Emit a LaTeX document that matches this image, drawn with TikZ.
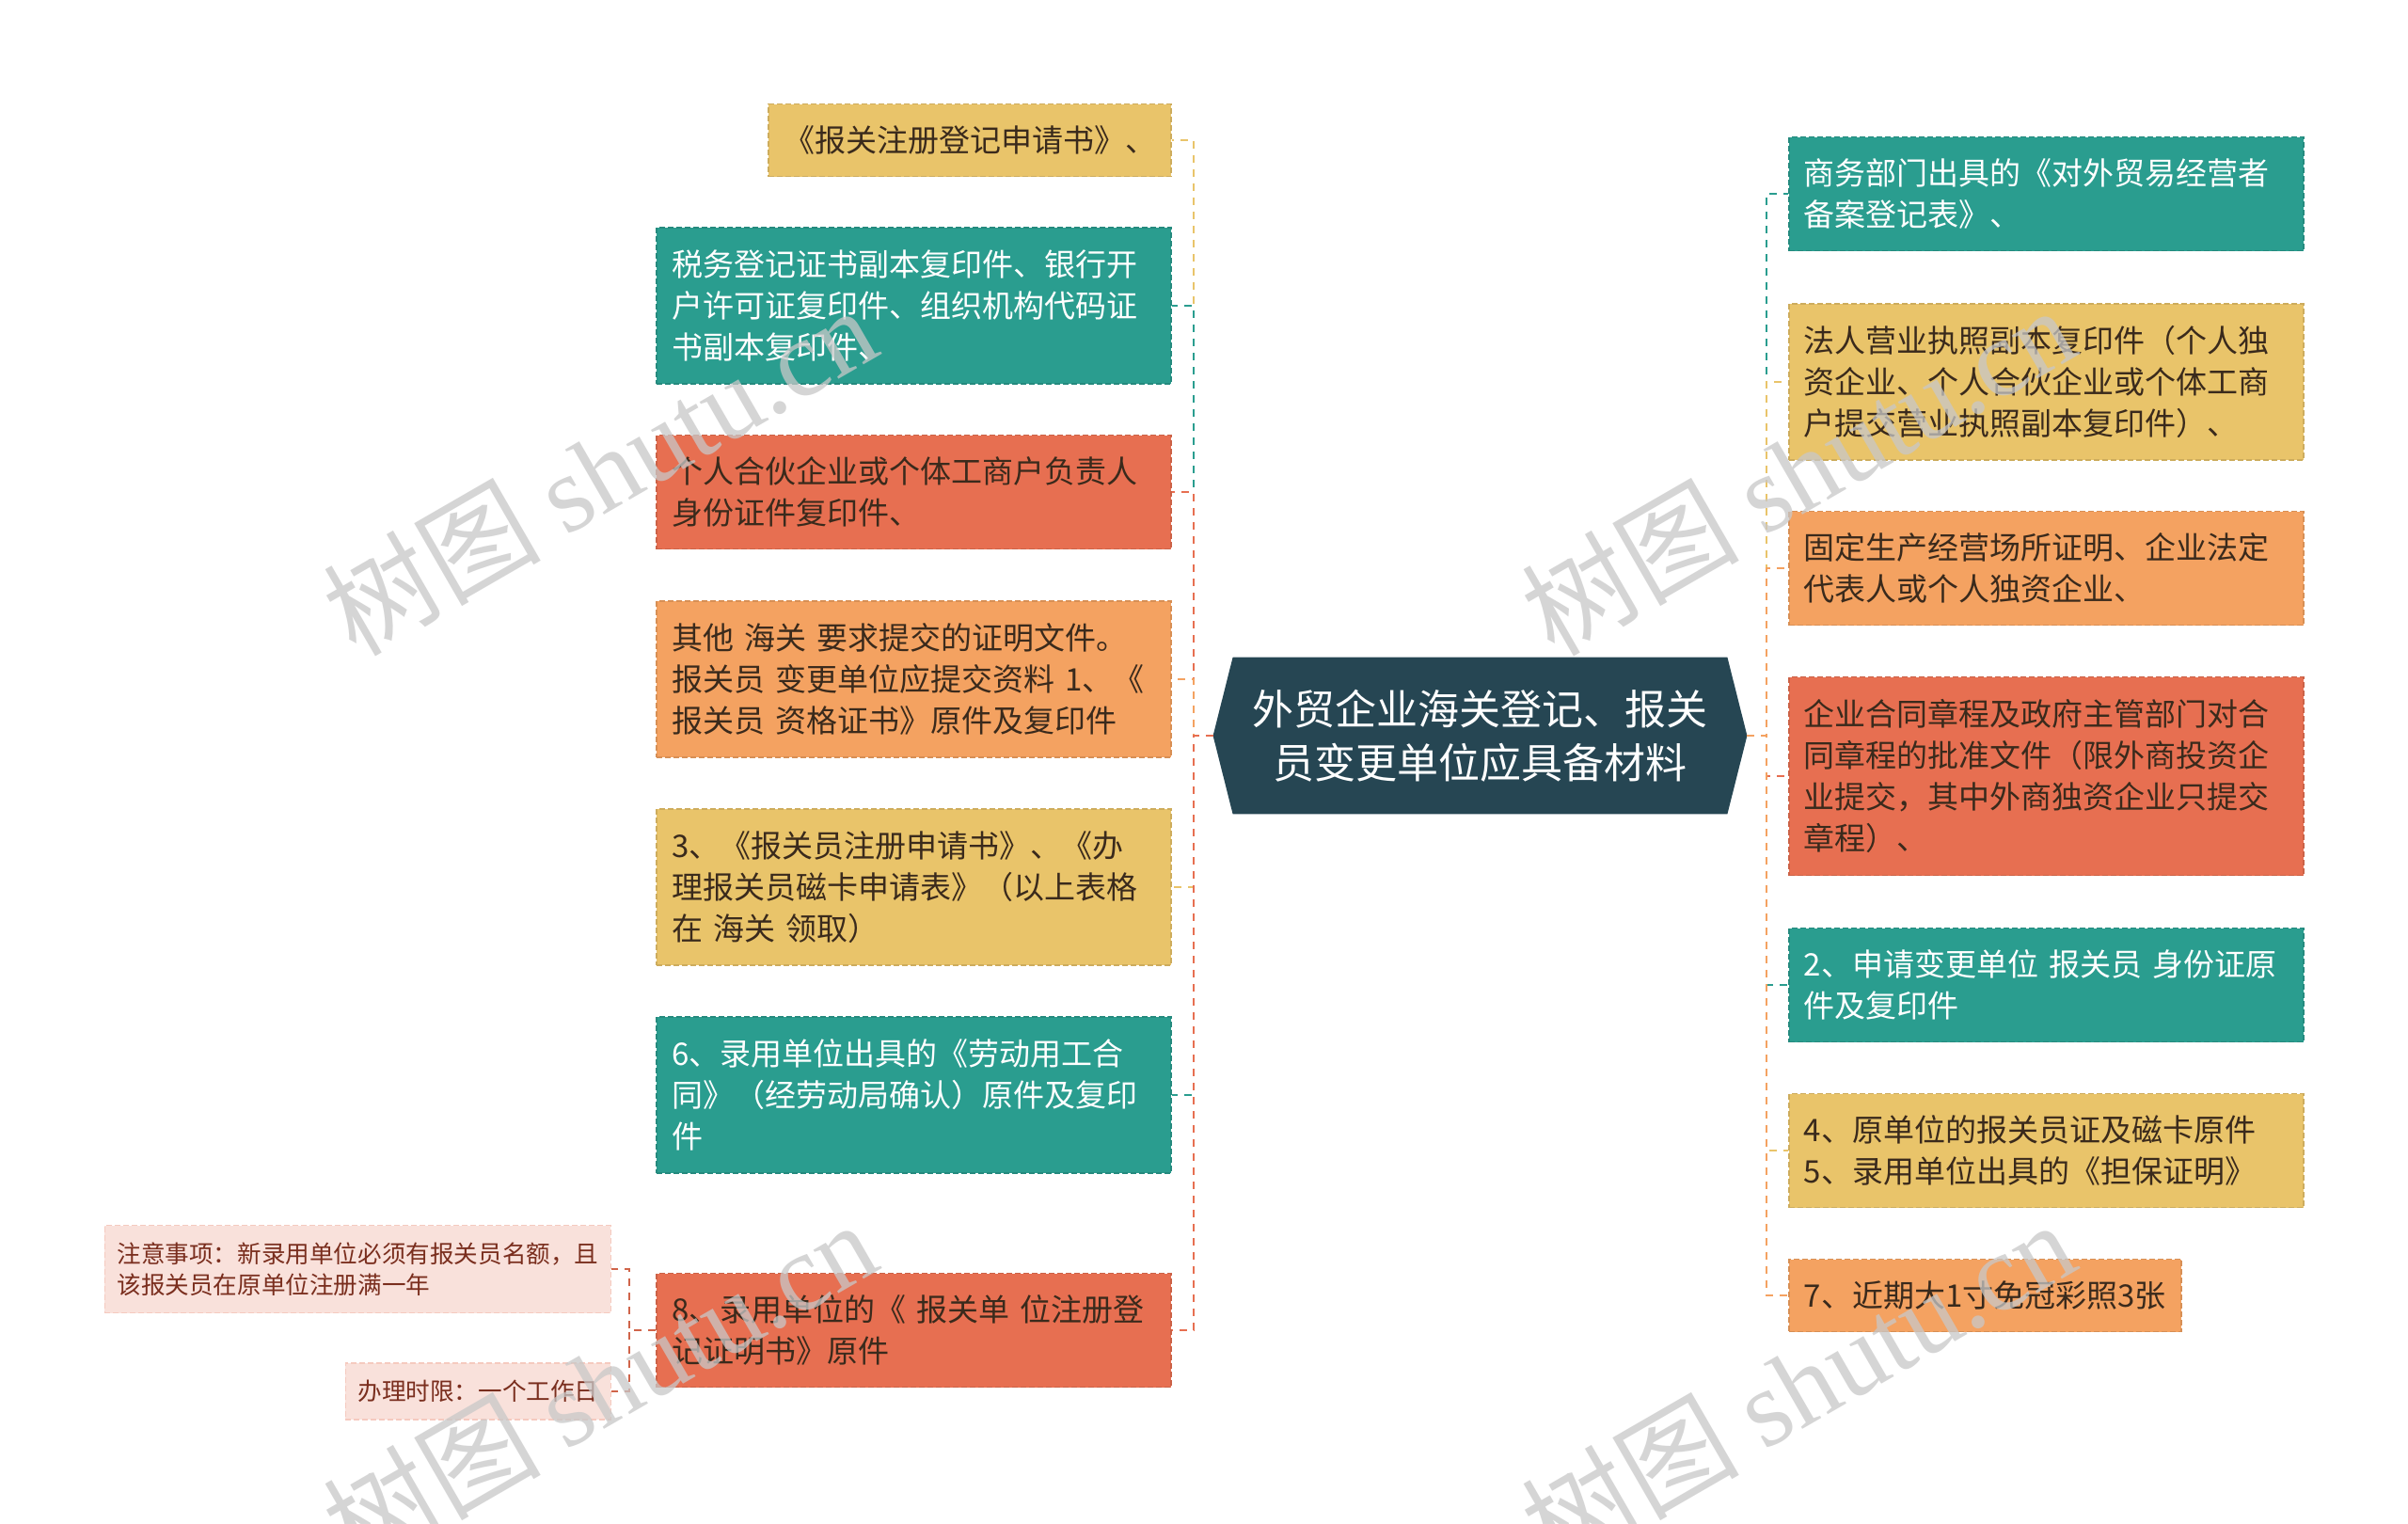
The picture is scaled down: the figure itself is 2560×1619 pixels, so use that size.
\documentclass[tikz,border=0pt]{standalone}
\usepackage{fontspec}
\setmainfont{Noto Sans CJK SC}
\newfontfamily\wmlatin{Liberation Serif}
\usetikzlibrary{backgrounds}
\definecolor{cteal}{HTML}{2A9D8F}
\definecolor{cyellow}{HTML}{E9C46A}
\definecolor{corange}{HTML}{F4A261}
\definecolor{cred}{HTML}{E76F51}
\definecolor{cdark}{HTML}{264653}
\definecolor{cpink}{HTML}{F9E1DB}
\definecolor{ctext}{HTML}{3A2A1C}
\definecolor{cnote}{HTML}{7A2E1E}
\definecolor{cnoteline}{HTML}{D0644A}
\definecolor{cwm}{HTML}{C8C8C8}
\tikzset{
  box/.style={rectangle, fill=#1, draw=#1!88!black, dash pattern=on 3pt off 1.5pt,
    line width=0.8pt, inner xsep=8pt, inner ysep=0pt, align=left, text=ctext,
    font=\fontsize{16.5pt}{22pt}\selectfont},
  wbox/.style={box=#1, text width=257.5pt},
  nh1/.style={minimum height=38.5pt},
  nh2/.style={minimum height=60.5pt},
  nh3/.style={minimum height=83pt},
  nh4/.style={minimum height=105.5pt},
  notebox/.style={rectangle, fill=cpink, draw=cpink!80!cred, dash pattern=on 3pt off 1.5pt,
    line width=0.6pt, inner xsep=6.5pt, inner ysep=0pt, align=left, text=cnote,
    font=\fontsize{12.8pt}{16.5pt}\selectfont},
  centerbox/.style={rectangle, inner sep=0pt, minimum width=262.5pt, minimum height=83pt,
    align=center, text=white, font=\fontsize{22pt}{28.5pt}\selectfont},
  conn/.style={draw=#1, line width=1.25pt, dash pattern=on 4pt off 3.5pt},
  notelink/.style={draw=cnoteline, line width=0.9pt, dash pattern=on 4pt off 3.5pt},
  wm/.style={text=cwm, opacity=0.75, rotate=30, anchor=base west, inner sep=0pt,
    font=\fontsize{58pt}{58pt}\selectfont}
}
\begin{document}
\begin{tikzpicture}[x=0.5pt, y=-0.5pt]
\useasboundingbox (0,0) rectangle (2560,1619);
\begin{scope}[on background layer]
\fill[white] (0,0) rectangle (2560,1619);
\end{scope}

% central topic
\node[centerbox] (C) at (1573.5,782) {外贸企业海关登记、报关\\员变更单位应具备材料};
\begin{scope}[on background layer]
\fill[cdark] (C.north west) -- (C.north east) -- ([xshift=10.5pt]C.east) -- (C.south east)
  -- (C.south west) -- ([xshift=-10.5pt]C.west) -- cycle;
\end{scope}
\coordinate (Cl) at ([xshift=-10.5pt]C.west);
\coordinate (Cr) at ([xshift=10.5pt]C.east);
\coordinate (lj) at (1269,782);
\coordinate (rj) at (1878,782);

% left branch
\node[box=cyellow, nh1, anchor=east] (L1) at (1246,149) {《报关注册登记申请书》、};
\node[wbox=cteal, nh3, text=white, anchor=east] (L2) at (1246,325) {税务登记证书副本复印件、银行开\\户许可证复印件、组织机构代码证\\书副本复印件、};
\node[wbox=cred, nh2, anchor=east] (L3) at (1246,523) {个人合伙企业或个体工商户负责人\\身份证件复印件、};
\node[wbox=corange, nh3, anchor=east] (L4) at (1246,722) {其他 海关 要求提交的证明文件。\\报关员 变更单位应提交资料 1、《\\报关员 资格证书》原件及复印件};
\node[wbox=cyellow, nh3, anchor=east] (L5) at (1246,943) {3、《报关员注册申请书》、《办\\理报关员磁卡申请表》（以上表格\\在 海关 领取）};
\node[wbox=cteal, nh3, text=white, anchor=east] (L6) at (1246,1164) {6、录用单位出具的《劳动用工合\\同》（经劳动局确认）原件及复印\\件};
\node[wbox=cred, nh2, anchor=east] (L7) at (1246,1414) {8、录用单位的《 报关单 位注册登\\记证明书》原件};

% notes
\node[notebox, minimum height=46.5pt, anchor=east] (N1) at (650,1349) {注意事项：新录用单位必须有报关员名额，且\\该报关员在原单位注册满一年};
\node[notebox, minimum height=30pt, anchor=east] (N2) at (650,1479) {办理时限：一个工作日};
\coordinate (nj) at (669,1414);

% right branch
\node[wbox=cteal, nh2, text=white, anchor=west] (R1) at (1901,206) {商务部门出具的《对外贸易经营者\\备案登记表》、};
\node[wbox=cyellow, nh3, anchor=west] (R2) at (1901,406) {法人营业执照副本复印件（个人独\\资企业、个人合伙企业或个体工商\\户提交营业执照副本复印件）、};
\node[wbox=corange, nh2, anchor=west] (R3) at (1901,604) {固定生产经营场所证明、企业法定\\代表人或个人独资企业、};
\node[wbox=cred, nh4, anchor=west] (R4) at (1901,825) {企业合同章程及政府主管部门对合\\同章程的批准文件（限外商投资企\\业提交，其中外商独资企业只提交\\章程）、};
\node[wbox=cteal, nh2, text=white, anchor=west] (R5) at (1901,1047) {2、申请变更单位 报关员 身份证原\\件及复印件};
\node[wbox=cyellow, nh2, anchor=west] (R6) at (1901,1223) {4、原单位的报关员证及磁卡原件\\5、录用单位出具的《担保证明》};
\node[box=corange, nh1, anchor=west] (R7) at (1901,1377) {7、近期大1寸免冠彩照3张};

% connectors left
\draw[conn=cyellow] (Cl) -- (lj) |- (L1.east);
\draw[conn=cteal] (Cl) -- (lj) |- (L2.east);
\draw[conn=cred] (Cl) -- (lj) |- (L3.east);
\draw[conn=corange] (Cl) -- (lj) |- (L4.east);
\draw[conn=cyellow] (Cl) -- (lj) |- (L5.east);
\draw[conn=cteal] (Cl) -- (lj) |- (L6.east);
\draw[conn=cred] (Cl) -- (lj) |- (L7.east);

% connectors right
\draw[conn=cteal] (Cr) -- (rj) |- (R1.west);
\draw[conn=cyellow] (Cr) -- (rj) |- (R2.west);
\draw[conn=corange] (Cr) -- (rj) |- (R3.west);
\draw[conn=cred] (Cr) -- (rj) |- (R4.west);
\draw[conn=cteal] (Cr) -- (rj) |- (R5.west);
\draw[conn=cyellow] (Cr) -- (rj) |- (R6.west);
\draw[conn=corange] (Cr) -- (rj) |- (R7.west);

% note connectors
\draw[notelink] (L7.west) -- (nj) |- (N1.east);
\draw[notelink] (L7.west) -- (nj) |- (N2.east);

% watermarks
\node[wm] (W1) at (378,700) {树图 {\wmlatin shutu.cn}};
\node[wm] (W2) at (1652,700) {树图 {\wmlatin shutu.cn}};
\node[wm] (W3) at (378,1672) {树图 {\wmlatin shutu.cn}};
\node[wm] (W4) at (1652,1672) {树图 {\wmlatin shutu.cn}};
\end{tikzpicture}
\end{document}
